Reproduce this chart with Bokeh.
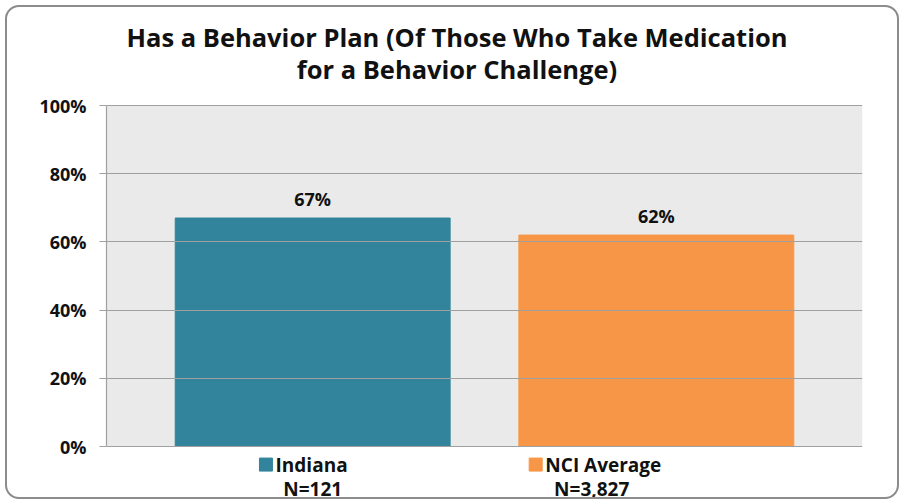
from bokeh.plotting import figure
from bokeh.models import Range1d, FixedTicker, ColumnDataSource, InlineStyleSheet
from bokeh.core.properties import value
from bokeh.embed import file_html
from bokeh.resources import INLINE

# ---- data ----
categories = ["Indiana", "NCI Average"]
values = [67, 62]
n_labels = ["N=121", "N=3,827"]
value_labels = ["67%", "62%"]
bar_colors = ["#31849B", "#F79646"]
y_ticks = [0, 20, 40, 60, 80, 100]
y_tick_labels = ["0%", "20%", "40%", "60%", "80%", "100%"]
title_lines = ["Has a Behavior Plan (Of Those Who Take Medication", "for a Behavior Challenge)"]

# ---- layout helpers (positions only) ----
bar_x = [i + 0.5 for i in range(len(categories))]
key_x = [0.364, 1.149]          # legend key squares under each bar
n_x = [0.5, 1.312]              # N= labels
FONT = value("Open Sans")

p = figure(width=900, height=501, output_backend="svg", toolbar_location=None,
           x_range=Range1d(-0.1, 2.1), y_range=Range1d(-16.13, 130.8),
           min_border_left=106, min_border_right=38, min_border_top=0, min_border_bottom=0)
p.background_fill_color = "white"
p.border_fill_color = "white"
p.outline_line_color = None
p.xaxis.visible = False
p.xgrid.visible = False

# rounded chart border (drawn by CSS around the canvas)
p.stylesheets = [InlineStyleSheet(css="""
:host { position: relative; }
:host::after { content: ""; position: absolute; left: 5px; top: 5px; width: 894px; height: 494px;
  border: 2px solid #8C8C8C; border-radius: 14px; pointer-events: none; box-sizing: border-box; }
""")]

# plot area background
p.quad(left=[-0.1], right=[2.1], bottom=[0], top=[100], fill_color="#EAEAEA", line_color=None)

# grid
p.ygrid.ticker = FixedTicker(ticks=y_ticks)
p.ygrid.grid_line_color = "#A0A0A0"
p.ygrid.grid_line_width = 1.2
p.ygrid.level = "glyph"

yax = p.yaxis[0]
yax.ticker = FixedTicker(ticks=y_ticks)
yax.major_label_overrides = {t: l for t, l in zip(y_ticks, y_tick_labels)}
yax.bounds = (0, 100)
yax.axis_line_color = "#A0A0A0"
yax.axis_line_width = 1.2
yax.major_tick_line_color = "#A0A0A0"
yax.major_tick_out = 7
yax.major_tick_in = 0
yax.minor_tick_line_color = None
yax.major_label_standoff = 13
yax.major_label_text_font = "Open Sans"
yax.major_label_text_font_style = "bold"
yax.major_label_text_font_size = "18px"
yax.major_label_text_color = "#111111"

src = ColumnDataSource(dict(x=bar_x, top=values, color=bar_colors, lab=value_labels,
                            kx=key_x, tx=[k + 0.028 for k in key_x], cat=categories,
                            nx=n_x, n=n_labels))

p.vbar(x="x", top="top", bottom=0, width=0.8, color="color", source=src)
p.text(x="x", y="top", text="lab", source=src, text_font=FONT, text_font_style="bold",
       text_font_size="18px", text_align="center", text_baseline="bottom", y_offset=-7,
       text_color="#111111")

# category keys and labels
p.scatter(x="kx", y=-5.3, marker="square", size=13, color="color", source=src)
p.text(x="tx", y=-5.3, text="cat", source=src, text_font=FONT, text_font_style="bold",
       text_font_size="19px", text_align="left", text_baseline="middle", text_color="#111111")
p.text(x="nx", y=-12.4, text="n", source=src, text_font=FONT, text_font_style="bold",
       text_font_size="19px", text_align="center", text_baseline="middle", text_color="#111111")

# title
p.text(x=[0.92, 0.92], y=[120.2, 110.85], text=title_lines, text_font=FONT,
       text_font_style="bold", text_font_size="25.5px", text_align="center",
       text_baseline="middle", text_color="#111111")

open("out.html", "w").write(file_html(p, INLINE))
